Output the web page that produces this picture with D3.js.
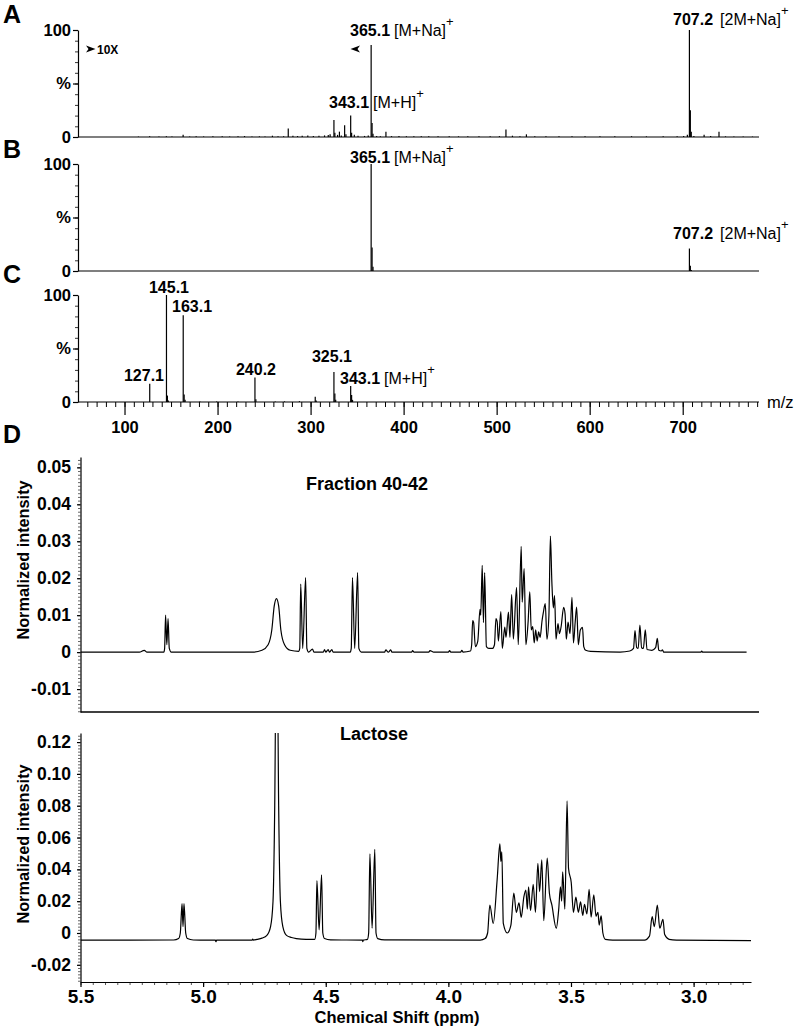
<!DOCTYPE html>
<html><head><meta charset="utf-8">
<script src="https://cdn.jsdelivr.net/npm/d3@7"></script>
<style>
html,body{margin:0;padding:0;background:#fff;}
svg{display:block;font-family:"Liberation Sans",Arial,sans-serif;}
</style></head>
<body>
<svg id="chart" width="798" height="1030"></svg>
<script>
// ---------------- DATA ----------------
// Mass spectra: m/z and relative intensity (%)
const msA_mz  = [115,127,137,145,151,163,170,177,185,195,205,213,222,229,237,245,251,259,265,271,276,281,286,291,297,303,309,315,319,321,325.1,326.1,329,331,333,336.6,338,343.1,344.1,347,351,358,362,365.1,366.1,367.1,371,375,381,387,395,403,411,419,427,437,449,459,469,481,493,503,510,517,525,532,541,553,567,581,595,611,627,645,661,679,694,701,705,707.2,708.2,709.2,712,723,730,739,746,755,765,775];
const msA_int = [0.4,0.7,0.5,0.6,0.4,2.2,0.5,0.8,0.5,0.6,0.7,0.5,0.6,0.9,0.5,0.6,0.5,1.2,0.7,0.8,8,1.2,0.9,1.2,1.3,1.0,1.2,1.5,1.8,2.5,16,4,2,5,1.5,11,2.5,20,4,2,1.2,1,1.5,86,13,3,1,0.8,5,0.8,1,0.7,0.8,0.6,0.7,0.6,0.7,0.6,0.7,0.6,0.7,0.8,7,1.2,0.8,2.5,0.7,0.7,0.6,0.6,0.7,0.6,0.6,0.7,0.6,0.7,0.8,1,2,100,25,5,1,2,1,5,0.6,0.5,0.5,0.4];
const msB_mz  = [365.1,366.1,367.1,707.2,708.2,709.2];
const msB_int = [100,22,4,21,5,1];
const msC_mz  = [127.1,145.1,146.1,147.1,163.1,164.1,165.1,181,199,222,240.2,241.2,262,272,288,305,306,325.1,326.1,327,343.1,344.1,345.1];
const msC_int = [17,100,6,1.5,81,7,2,0.5,0.4,0.5,23,2.5,0.5,0.6,0.8,5,1.5,28,8,2,15,6.5,2];
const msTickValues = [100,200,300,400,500,600,700];
const msYTicks = [0,50,100];
const msYTickLabels = ["0","%","100"];

// NMR spectra: chemical shift (ppm) and normalized intensity, vertices
const fracPpm = [5.50,5.26,5.24,5.23,5.16,5.157,5.153,5.148,5.143,5.138,5.13,4.80,4.76,4.735,4.72,4.710,4.701,4.692,4.683,4.668,4.645,4.61,4.606,4.602,4.594,4.582,4.577,4.570,4.554,4.548,4.51,4.505,4.50,4.49,4.485,4.475,4.47,4.40,4.396,4.391,4.382,4.370,4.365,4.355,4.26,4.255,4.245,4.235,4.23,4.15,4.146,4.14,4.08,4.075,4.07,4.06,4.00,3.995,3.99,3.95,3.945,3.94,3.91,3.905,3.901,3.897,3.890,3.880,3.871,3.868,3.862,3.857,3.852,3.845,3.835,3.820,3.812,3.806,3.801,3.796,3.786,3.780,3.770,3.765,3.755,3.749,3.742,3.735,3.722,3.715,3.703,3.699,3.691,3.684,3.675,3.668,3.662,3.656,3.650,3.644,3.638,3.632,3.626,3.618,3.613,3.605,3.598,3.590,3.584,3.578,3.572,3.567,3.561,3.553,3.547,3.540,3.530,3.524,3.519,3.512,3.504,3.496,3.490,3.483,3.477,3.470,3.462,3.453,3.448,3.44,3.42,3.30,3.26,3.245,3.239,3.232,3.226,3.219,3.212,3.205,3.197,3.190,3.170,3.155,3.148,3.142,3.132,3.127,3.122,3.10,2.97,2.967,2.963,2.784];
const fracInt = [0,0,0.0005,0,0,0.001,0.0100,0.002,0.0091,0.001,0,0,0.0005,0.0020,0.006,0.0125,0.0145,0.0125,0.006,0.002,0.0005,0.0002,0.001,0.0184,0.001,0.0202,0.001,0,0.0008,0,0,0.0007,0,0.0007,0,0.0007,0,0,0.001,0.0202,0.001,0.0215,0.001,0,0,0.0006,0,0.0006,0,0,0.0004,0,0,0.0004,0.0003,0,0,0.0004,0,0,0.0005,0,0.0003,0.002,0.0085,0.008,0.0015,0.003,0.0116,0.010,0.0235,0.008,0.0215,0.0015,0.001,0.001,0.002,0.0091,0.0082,0.003,0.011,0.001,0.0068,0.004,0.0108,0.004,0.0156,0.0035,0.0175,0.002,0.0286,0.0135,0.0226,0.002,0.008,0.0163,0.006,0.0069,0.0025,0.0060,0.0030,0.0055,0.004,0.0085,0.0106,0.0131,0.0035,0.010,0.0314,0.0190,0.012,0.0153,0.0035,0.0077,0.005,0.0070,0.0121,0.0103,0.0035,0.0081,0.0050,0.0148,0.0025,0.008,0.0122,0.002,0.006,0.0067,0.0015,0.0005,0.0002,0,0.0003,0.001,0.0058,0.0012,0.001,0.0073,0.0012,0.001,0.006,0.0007,0.0005,0.0012,0.0037,0.0005,0.0003,0.0006,0,0,0,0.0003,0,0];

const lacPpm = [5.50,5.12,5.10,5.093,5.086,5.082,5.078,5.071,5.064,5.04,4.950,4.948,4.945,4.80,4.798,4.795,4.78,4.76,4.74,4.725,4.715,4.708,4.703,4.697,4.692,4.685,4.675,4.66,4.64,4.62,4.58,4.545,4.540,4.536,4.527,4.517,4.512,4.505,4.48,4.35,4.349,4.347,4.33,4.325,4.320,4.311,4.300,4.295,4.288,4.26,3.87,3.85,3.84,3.831,3.817,3.801,3.790,3.786,3.782,3.776,3.760,3.745,3.733,3.723,3.712,3.703,3.692,3.684,3.678,3.673,3.665,3.654,3.645,3.635,3.628,3.619,3.611,3.597,3.588,3.578,3.560,3.550,3.543,3.538,3.534,3.525,3.516,3.510,3.499,3.490,3.480,3.470,3.461,3.452,3.445,3.435,3.426,3.418,3.407,3.398,3.390,3.385,3.377,3.370,3.36,3.33,3.20,3.18,3.169,3.160,3.148,3.138,3.125,3.118,3.10,3.07,2.766];
const lacInt = [-0.0045,-0.0044,-0.0035,0.0,0.0185,0.004,0.0185,0.0,-0.0035,-0.0044,-0.0045,-0.0055,-0.0045,-0.0045,-0.0038,-0.0045,-0.0040,-0.0032,-0.0015,0.004,0.02,0.08,0.16,0.16,0.08,0.02,0.004,-0.0015,-0.0028,-0.0035,-0.004,-0.004,0.0,0.033,0.002,0.0365,0.0,-0.0035,-0.0043,-0.0045,-0.0055,-0.0045,-0.004,0.0,0.0497,0.003,0.0526,0.0,-0.0035,-0.0043,-0.0045,-0.0035,0.0,0.0176,0.006,0.0337,0.056,0.045,0.051,0.006,0.0,0.005,0.025,0.013,0.019,0.0098,0.0228,0.027,0.015,0.029,0.014,0.0306,0.013,0.0438,0.026,0.0459,0.0077,0.047,0.025,0.0176,0.003,0.015,0.029,0.020,0.0385,0.015,0.083,0.0405,0.0317,0.013,0.0225,0.013,0.0195,0.011,0.018,0.012,0.0275,0.010,0.024,0.0105,0.013,0.005,0.0107,0.0,-0.004,-0.0045,-0.0045,-0.002,0.0103,0.004,0.0176,0.003,0.0086,-0.001,-0.004,-0.0045,-0.0048];

const nmrXTicks = [5.5,5.0,4.5,4.0,3.5,3.0];
const nmrXTickLabels = ["5.5","5.0","4.5","4.0","3.5","3.0"];
const fracYTicks = [-0.01,0,0.01,0.02,0.03,0.04,0.05];
const fracYTickLabels = ["-0.01","0","0.01","0.02","0.03","0.04","0.05"];
const lacYTicks = [-0.02,0,0.02,0.04,0.06,0.08,0.10,0.12];
const lacYTickLabels = ["-0.02","0","0.02","0.04","0.06","0.08","0.10","0.12"];

// ---------------- DRAWING ----------------
const svg = d3.select("#chart");
const FONT = '"Liberation Sans",Arial,sans-serif';

const xMS = d3.scaleLinear().domain([50, 782]).range([78, 759]);

function msPanel(mz, inten, y0, y100, letter, letterY){
  const y = d3.scaleLinear().domain([0,100]).range([y0, y100]);
  const g = svg.append("g");
  g.selectAll("line.stick").data(mz.map((m,i)=>[m,inten[i]])).join("line")
    .attr("x1", d=>xMS(d[0])).attr("x2", d=>xMS(d[0]))
    .attr("y1", y(0)).attr("y2", d=>y(d[1]))
    .attr("stroke","#000").attr("stroke-width",1.2);
  g.append("line").attr("x1",xMS(50)).attr("x2",xMS(782)).attr("y1",y(0)).attr("y2",y(0))
    .attr("stroke","#000").attr("stroke-width",1.2);
  const minor = g.append("g").attr("transform",`translate(${xMS(50)},0)`)
    .call(d3.axisLeft(y).tickValues(d3.range(0,101,10)).tickSize(3).tickFormat("").tickSizeOuter(0));
  minor.select(".domain").remove();
  minor.selectAll("line").attr("stroke","#333");
  const ax = g.append("g").attr("transform",`translate(${xMS(50)},0)`)
    .call(d3.axisLeft(y).tickValues(msYTicks).tickSize(5).tickPadding(2)
      .tickFormat((d,i)=>msYTickLabels[i]).tickSizeOuter(0));
  ax.selectAll("text").attr("font-family",FONT).attr("font-weight","bold").attr("font-size",16.5).attr("fill","#000");
  ax.selectAll("path,line").attr("stroke","#000").attr("stroke-width",1.2);
  svg.append("text").attr("x",3).attr("y",letterY).text(letter)
    .attr("font-family",FONT).attr("font-weight","bold").attr("font-size",25);
  return y;
}

const yA = msPanel(msA_mz, msA_int, 137, 30, "A", 23);
const yB = msPanel(msB_mz, msB_int, 271, 164, "B", 158);
const yC = msPanel(msC_mz, msC_int, 402, 295, "C", 283);

const xMinor = svg.append("g").attr("transform",`translate(0,${yC(0)})`)
  .call(d3.axisBottom(xMS).tickValues(d3.range(60,781,10)).tickSize(5).tickFormat("").tickSizeOuter(0));
xMinor.select(".domain").remove();
xMinor.selectAll("line").attr("stroke","#000");
const xMajor = svg.append("g").attr("transform",`translate(0,${yC(0)})`)
  .call(d3.axisBottom(xMS).tickValues(msTickValues).tickSize(13).tickPadding(6).tickFormat(d3.format("d")).tickSizeOuter(0));
xMajor.select(".domain").remove();
xMajor.selectAll("line").attr("stroke","#000").attr("stroke-width",1.2);
xMajor.selectAll("text").attr("font-family",FONT).attr("font-weight","bold").attr("font-size",16.5).attr("fill","#000");
svg.append("text").attr("x",767).attr("y",408).text("m/z").attr("font-family",FONT).attr("font-size",16.5);

function peakLabel(x, y, num, ion, anchor, gap){
  const t = svg.append("text").attr("x",x).attr("y",y).attr("font-family",FONT).attr("font-size",16).attr("text-anchor",anchor||"start");
  t.append("tspan").attr("font-weight","bold").text(num);
  if(ion){
    t.append("tspan").attr("dx", gap||4).text(ion);
    t.append("tspan").attr("dy",-10).attr("font-size",13).text("+");
  }
}
peakLabel(350, 36, "365.1", "[M+Na]");
peakLabel(673, 25, "707.2", "[2M+Na]", "start", 7);
peakLabel(329, 108, "343.1", "[M+H]");
peakLabel(350, 163, "365.1", "[M+Na]");
peakLabel(673, 239, "707.2", "[2M+Na]", "start", 7);
peakLabel(169, 293, "145.1", null, "middle");
peakLabel(172, 312, "163.1");
peakLabel(164, 381, "127.1", null, "end");
peakLabel(256, 375, "240.2", null, "middle");
peakLabel(332, 362, "325.1", null, "middle");
peakLabel(340, 384, "343.1", "[M+H]");

svg.append("path").attr("d","M86,45.5 L95.5,49 L86,52.5 L88.5,49 Z").attr("fill","#000");
svg.append("text").attr("x",97).attr("y",53.5).text("10X").attr("font-family",FONT).attr("font-weight","bold").attr("font-size",12);
svg.append("path").attr("d","M360,45.5 L350.5,49 L360,52.5 L357.5,49 Z").attr("fill","#000");

// ---------------- NMR ----------------
const xN = d3.scaleLinear().domain([5.5, 2.766]).range([80.5, 751]);
svg.append("text").attr("x",3).attr("y",443).text("D")
  .attr("font-family",FONT).attr("font-weight","bold").attr("font-size",25);

function nmrPanel(ppm, inten, yDom, yRange, ticks, tickLabels, minorStep, clipId, labelText, labelX, labelY, ylabY){
  const y = d3.scaleLinear().domain(yDom).range(yRange);
  svg.append("clipPath").attr("id",clipId).append("rect")
    .attr("x",80.5).attr("y",yRange[1]).attr("width",680).attr("height",yRange[0]-yRange[1]);
  const line = d3.line().x(d=>xN(d[0])).y(d=>y(d[1])).curve(d3.curveMonotoneX);
  svg.append("path").datum(ppm.map((p,i)=>[p,inten[i]]))
    .attr("d",line).attr("fill","none").attr("stroke","#000").attr("stroke-width",1.2)
    .attr("clip-path",`url(#${clipId})`);
  const mn = svg.append("g").attr("transform","translate(80.5,0)")
    .call(d3.axisLeft(y).tickValues(d3.range(Math.ceil(yDom[0]/minorStep), Math.floor(yDom[1]/minorStep)+1).map(k=>k*minorStep))
      .tickSize(2.5).tickFormat("").tickSizeOuter(0));
  mn.select(".domain").remove();
  mn.selectAll("line").attr("stroke","#666");
  const ay = svg.append("g").attr("transform","translate(80.5,0)")
    .call(d3.axisLeft(y).tickValues(ticks).tickSize(3.5).tickPadding(6)
      .tickFormat((d,i)=>tickLabels[i]).tickSizeOuter(0));
  ay.selectAll("text").attr("font-family",FONT).attr("font-weight","bold").attr("font-size",17.5).attr("fill","#000");
  ay.selectAll("path,line").attr("stroke","#000").attr("stroke-width",1.2);
  svg.append("text").attr("transform",`translate(29,${ylabY}) rotate(-90)`).attr("text-anchor","middle")
    .text("Normalized intensity").attr("font-family",FONT).attr("font-weight","bold").attr("font-size",16.3);
  svg.append("text").attr("x",labelX).attr("y",labelY).text(labelText)
    .attr("font-family",FONT).attr("font-weight","bold").attr("font-size",18);
  return y;
}

const yF = nmrPanel(fracPpm, fracInt, [-0.0162, 0.0528], [712, 457], fracYTicks, fracYTickLabels, 0.001, "clipF", "Fraction 40-42", 306, 490, 560);
svg.append("line").attr("x1",80.5).attr("x2",759).attr("y1",712).attr("y2",712).attr("stroke","#000").attr("stroke-width",1.3);

const yL = nmrPanel(lacPpm, lacInt, [-0.0308, 0.1257], [982, 733], lacYTicks, lacYTickLabels, 0.002, "clipL", "Lactose", 340, 740, 844);

const nMinor = svg.append("g").attr("transform","translate(0,982)")
  .call(d3.axisBottom(xN).tickValues(d3.range(0,55).map(k=>5.5-k*0.05).filter(v=>v>=2.766)).tickSize(3).tickFormat("").tickSizeOuter(0));
nMinor.select(".domain").remove();
nMinor.selectAll("line").attr("stroke","#555");
const nMajor = svg.append("g").attr("transform","translate(0,982)")
  .call(d3.axisBottom(xN).tickValues(nmrXTicks).tickSize(5).tickPadding(3)
    .tickFormat((d,i)=>nmrXTickLabels[i]).tickSizeOuter(0));
nMajor.selectAll("path,line").attr("stroke","#000").attr("stroke-width",1.2);
nMajor.selectAll("text").attr("font-family",FONT).attr("font-weight","bold").attr("font-size",19).attr("fill","#000");
svg.append("text").attr("x",397).attr("y",1023).attr("text-anchor","middle").text("Chemical Shift (ppm)")
  .attr("font-family",FONT).attr("font-weight","bold").attr("font-size",16.5);
</script>
</body></html>
